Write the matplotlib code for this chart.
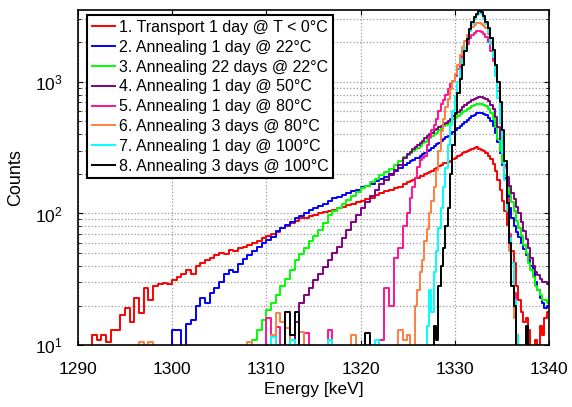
import numpy as np
import matplotlib
matplotlib.use('Agg')
import matplotlib.pyplot as plt
from matplotlib.ticker import LogLocator, MultipleLocator

plt.rcParams['font.family'] = ['Liberation Sans', 'DejaVu Sans']
plt.rcParams['mathtext.fontset'] = 'custom'
plt.rcParams['mathtext.rm'] = 'Liberation Sans'
plt.rcParams['mathtext.it'] = 'Liberation Sans:italic'
plt.rcParams['mathtext.bf'] = 'Liberation Sans:bold'

# bin centres: 0.5 keV bins below 1325 keV, 0.25 keV bins in the peak region
energy = np.concatenate([np.arange(1290.25, 1325, 0.5),
                         np.arange(1325.125, 1340, 0.25)])

labels = [
    '1. Transport 1 day @ T < 0°C',
    '2. Annealing 1 day @ 22°C',
    '3. Annealing 22 days @ 22°C',
    '4. Annealing 1 day @ 50°C',
    '5. Annealing 1 day @ 80°C',
    '6. Annealing 3 days @ 80°C',
    '7. Annealing 1 day @ 100°C',
    '8. Annealing 3 days @ 100°C',
]
colors = ['#ff0000', '#0000ff', '#00ff00', '#800080',
          '#ff1493', '#ff7f3f', '#00ffff', '#000000']

# counts per bin (0 = empty bin)
transport = [0, 0, 0, 12, 11, 12, 10.5, 13, 13, 17,
             19, 15, 23, 17.5, 27, 22, 28, 29, 29.5, 29,
             31, 33, 35, 37, 35, 40, 42, 44, 46, 48,
             50, 49, 53, 52, 55, 56, 58, 60, 62, 65,
             68, 70, 72, 78, 80, 85, 88, 93, 92, 96,
             98, 100, 103, 105, 107, 110, 112, 115, 118, 122,
             125, 128, 132, 138, 142, 148, 152, 156, 160, 168,
             172, 178, 180, 185, 186, 191, 193, 198,
             202, 208, 212, 218, 222, 228, 232, 240,
             243, 248, 252, 260, 266, 274, 280, 290,
             292, 298, 303, 308, 312, 318, 310, 306,
             298, 290, 272, 258, 238, 212, 180, 150,
             125, 104, 82, 66, 52, 42, 28, 22,
             18, 15, 16, 13, 0, 0, 11, 0,
             14, 12, 16, 18]
ann_1d_22 = [0, 0, 0, 0, 0, 0, 0, 0, 0, 0,
             0, 0, 0, 0, 0, 0, 0, 0, 0, 0,
             13, 13, 0, 14.5, 15.5, 20, 23, 21, 25, 27,
             30, 35, 37, 36, 41, 45, 48, 52, 56, 60,
             63, 66, 74, 78, 82, 86, 92, 96, 100, 106,
             110, 114, 118, 124, 130, 134, 138, 143, 148, 152,
             158, 163, 168, 175, 182, 190, 198, 210, 220, 232,
             242, 250, 255, 262, 266, 274, 282, 290,
             296, 305, 315, 326, 335, 345, 355, 366,
             380, 390, 402, 418, 432, 448, 462, 478,
             495, 512, 530, 548, 562, 575, 582, 578,
             570, 556, 530, 505, 462, 410, 350, 290,
             235, 185, 140, 110, 92, 80, 72, 66,
             60, 54, 48, 44, 40, 36, 30, 26,
             23, 21, 19, 20]
ann_22d_22 = [0, 0, 0, 0, 0, 0, 0, 0, 0, 0,
              0, 0, 0, 0, 0, 0, 0, 0, 0, 0,
              0, 0, 0, 0, 0, 0, 0, 0, 0, 0,
              0, 0, 0, 0, 0, 0, 0, 11, 13, 15.5,
              18.5, 21, 24, 28, 32, 37, 44, 49, 55, 62,
              68, 75, 85, 98, 104, 110, 118, 126, 135, 146,
              155, 163, 172, 183, 195, 205, 218, 232, 250, 268,
              280, 290, 300, 310, 316, 328, 340, 350,
              362, 376, 390, 400, 412, 428, 442, 458,
              472, 488, 502, 518, 532, 548, 565, 585,
              602, 618, 636, 652, 665, 676, 684, 680,
              672, 655, 625, 580, 520, 450, 370, 300,
              240, 195, 165, 140, 122, 104, 88, 78,
              68, 58, 50, 42, 37, 33, 28, 26,
              24, 22, 22, 21]
ann_1d_50 = [0, 0, 0, 0, 0, 0, 0, 0, 0, 0,
             0, 0, 0, 0, 0, 0, 0, 0, 0, 0,
             0, 0, 0, 0, 0, 0, 0, 0, 0, 0,
             0, 0, 0, 0, 0, 0, 0, 0, 0, 0,
             0, 0, 0, 0, 0, 11, 15, 21, 24, 27,
             31, 35, 39, 44, 50, 56, 65, 75, 86, 98,
             110, 122, 135, 150, 168, 180, 195, 215, 235, 262,
             285, 295, 308, 320, 332, 345, 358, 372,
             385, 400, 412, 428, 440, 452, 465, 478,
             490, 508, 525, 548, 565, 590, 612, 640,
             662, 688, 708, 728, 745, 760, 772, 768,
             758, 740, 712, 670, 620, 545, 455, 370,
             295, 235, 190, 162, 142, 128, 112, 100,
             86, 74, 64, 55, 46, 40, 36, 34,
             32, 30, 30, 29]
ann_1d_80 = [0, 0, 0, 0, 0, 0, 0, 0, 0, 0,
             0, 0, 0, 0, 0, 0, 0, 0, 0, 0,
             0, 0, 0, 0, 0, 0, 0, 0, 0, 0,
             0, 0, 0, 0, 0, 0, 0, 0, 0, 0,
             16, 0, 13.7, 0, 0, 0, 0, 0, 12.3, 0,
             0, 0, 0, 13, 0, 0, 0, 0, 0, 0,
             0, 0, 0, 0, 11, 27, 20, 46, 55, 80,
             100, 130, 158, 185, 225, 255, 262, 275,
             330, 380, 430, 470, 520, 600, 680, 730,
             800, 880, 960, 1020, 1100, 1250, 1420, 1600,
             1800, 1950, 2150, 2250, 2350, 2420, 2450, 2400,
             2300, 2200, 2000, 1700, 1450, 1150, 850, 600,
             380, 230, 130, 70, 42, 25, 12, 0,
             0, 0, 0, 0, 0, 0, 0, 0,
             0, 0, 0, 0]
ann_3d_80 = [0, 0, 0, 0, 0, 0, 0, 0, 0, 0,
             0, 0, 0, 10.5, 0, 10.5, 0, 0, 0, 0,
             0, 0, 0, 0, 0, 0, 0, 0, 0, 0,
             0, 0, 0, 0, 0, 0, 10.5, 0, 0, 0,
             0, 12, 17.5, 15, 13.6, 11, 0, 12.5, 0, 0,
             0, 0, 0, 11, 0, 0, 0, 0, 12, 0,
             0, 0, 0, 0, 0, 0, 0, 0, 13, 11,
             12, 0, 0, 20, 26, 36, 44, 62,
             76, 100, 125, 160, 215, 300, 420, 520,
             640, 740, 880, 1020, 1150, 1350, 1600, 1850,
             2050, 2250, 2450, 2600, 2700, 2780, 2800, 2750,
             2650, 2550, 2300, 2000, 1650, 1250, 900, 620,
             380, 220, 110, 52, 30, 16, 11, 0,
             0, 0, 0, 0, 0, 0, 0, 0,
             0, 0, 0, 0]
ann_1d_100 = [0, 0, 0, 0, 0, 0, 0, 0, 0, 0,
              0, 0, 0, 0, 0, 0, 0, 0, 0, 0,
              0, 0, 0, 0, 0, 0, 0, 0, 0, 0,
              0, 0, 0, 0, 0, 0, 0, 0, 0, 0,
              0, 11.5, 0, 0, 0, 11, 0, 0, 0, 0,
              0, 0, 0, 11, 0, 0, 0, 0, 0, 0,
              0, 0, 0, 11, 0, 0, 0, 0, 0, 0,
              0, 0, 0, 0, 0, 0, 0, 0,
              14, 26, 18, 36, 52, 78, 110, 158,
              220, 330, 470, 600, 780, 1000, 1250, 1500,
              1800, 2100, 2450, 2750, 3000, 3200, 3350, 3300,
              3050, 2750, 2400, 1950, 1550, 1100, 750, 480,
              290, 180, 105, 65, 42, 22, 12, 0,
              0, 0, 0, 0, 0, 0, 0, 0,
              0, 0, 0, 0]
ann_3d_100 = [0, 0, 0, 0, 0, 0, 0, 0, 0, 0,
              0, 0, 0, 0, 0, 0, 0, 0, 0, 0,
              0, 0, 0, 0, 0, 0, 0, 0, 0, 0,
              0, 0, 0, 0, 0, 0, 0, 0, 0, 0,
              0, 0, 0, 0, 18, 12, 18, 0, 0, 0,
              0, 0, 0, 0, 0, 0, 0, 0, 0, 0,
              0, 12.3, 0, 0, 0, 0, 0, 0, 0, 0,
              0, 0, 0, 0, 0, 0, 0, 0,
              0, 0, 0, 14, 11, 28, 40, 55,
              80, 110, 200, 330, 580, 820, 1050, 1350,
              1700, 2100, 2500, 2850, 3100, 3300, 3450, 3400,
              3150, 2850, 2550, 2150, 1750, 1350, 1000, 700,
              430, 250, 120, 60, 28, 20, 0, 0,
              0, 0, 14, 0, 0, 0, 0, 0,
              0, 0, 0, 0]

spectra = [transport, ann_1d_22, ann_22d_22, ann_1d_50,
           ann_1d_80, ann_3d_80, ann_1d_100, ann_3d_100]

fig = plt.figure(figsize=(5.72, 4.07), dpi=100)
ax = fig.add_axes([0.136, 0.152, 0.824, 0.823])

for counts, lab, col in zip(spectra, labels, colors):
    ax.step(energy, counts, where='mid', color=col, lw=1.4, label=lab)

ax.set_yscale('log', nonpositive='clip')
ax.set_xlim(1290, 1340)
ax.set_ylim(10, 3500)
ax.xaxis.set_major_locator(MultipleLocator(10))
ax.yaxis.set_minor_locator(LogLocator(base=10, subs=np.arange(2, 10)))

ax.grid(True, which='major', axis='x', ls=':', color='#999999', lw=0.9)
ax.grid(True, which='both', axis='y', ls=':', color='#999999', lw=0.9)

ax.tick_params(which='both', direction='in', top=True, right=True, labelsize=12.5)
ax.tick_params(axis='x', pad=12)
ax.tick_params(axis='y', pad=11)
for sp in ax.spines.values():
    sp.set_linewidth(1.2)

ax.set_xlabel('Energy [keV]', fontsize=12.5, labelpad=4)
ax.set_ylabel('Counts', fontsize=13, labelpad=8)

leg = ax.legend(loc='upper left', bbox_to_anchor=(0.019, 0.985), borderaxespad=0,
                fontsize=11.5, frameon=True, fancybox=False,
                handlelength=1.45, handletextpad=0.25, labelspacing=0.3,
                borderpad=0.3)
leg.get_frame().set_edgecolor('black')
leg.get_frame().set_linewidth(1.5)
leg.get_frame().set_alpha(1)

fig.savefig('out.png', dpi=100)
